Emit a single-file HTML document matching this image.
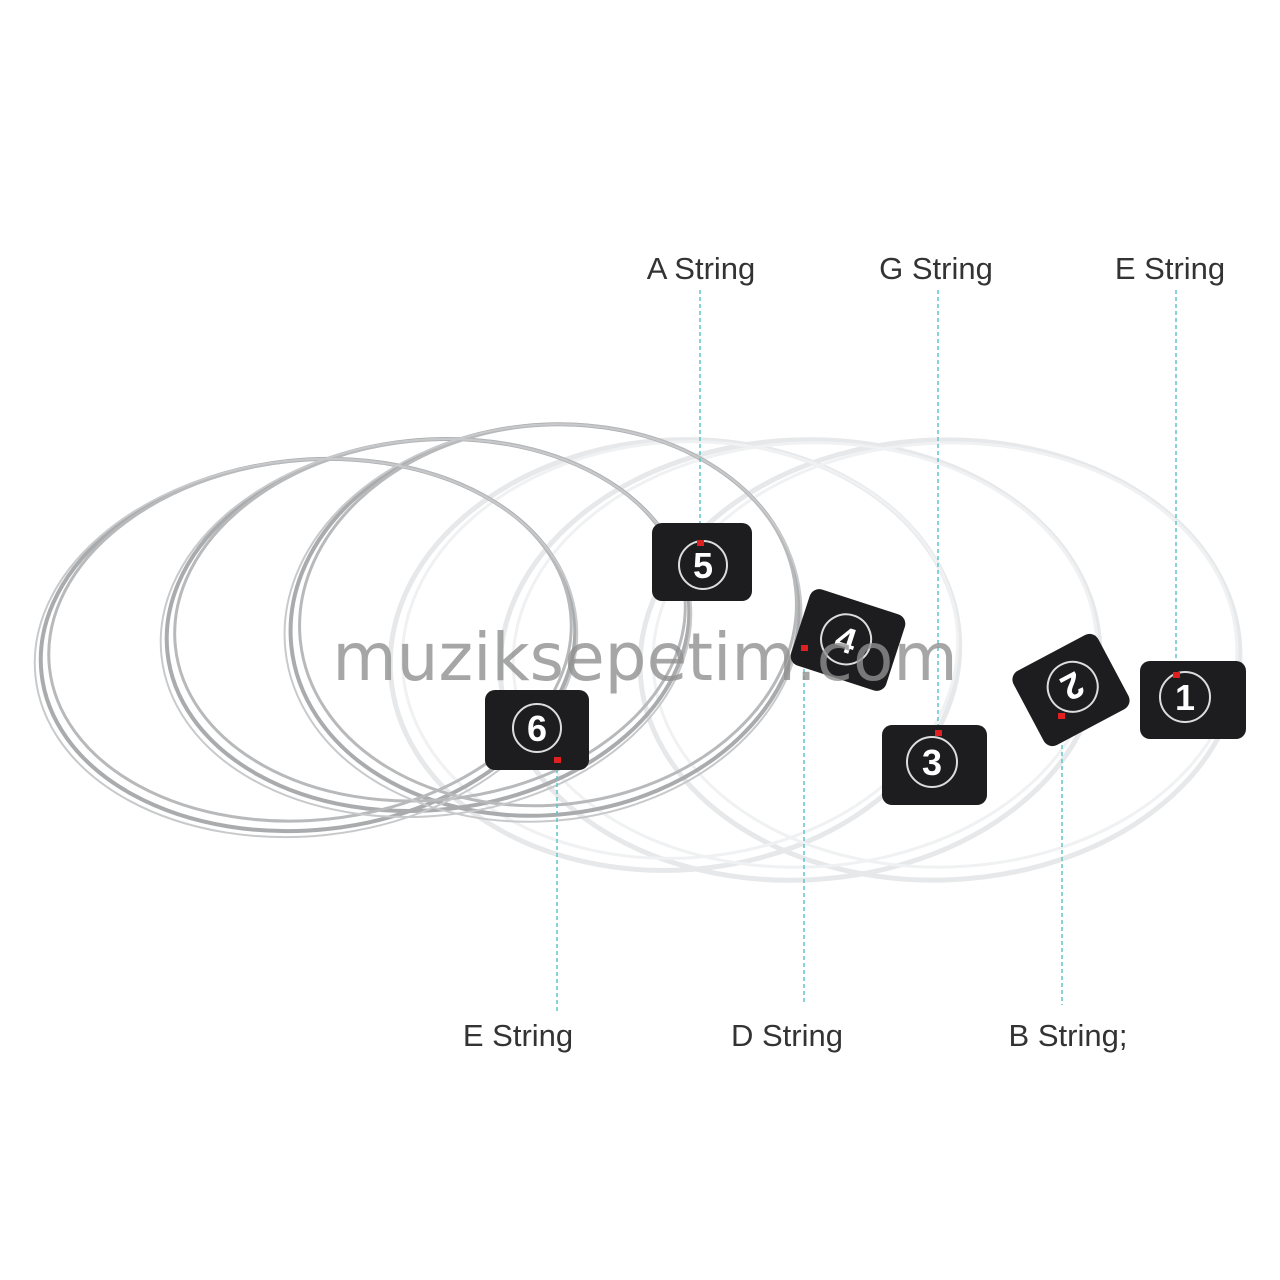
<!DOCTYPE html>
<html><head><meta charset="utf-8"><style>
html,body{margin:0;padding:0;background:#fff;}
svg{display:block}
</style></head><body>
<svg width="1280" height="1280" viewBox="0 0 1280 1280" xmlns="http://www.w3.org/2000/svg">
<rect width="1280" height="1280" fill="#fff"/>
<!-- white nylon rings -->
<g fill="none" stroke="#e6e8ea" stroke-width="5">
<ellipse cx="675" cy="655" rx="285" ry="215" transform="rotate(-4 675 655)"/>
<ellipse cx="800" cy="660" rx="300" ry="220" transform="rotate(-3 800 660)"/>
<ellipse cx="940" cy="660" rx="300" ry="220" transform="rotate(-2 940 660)"/>
</g>
<g fill="none" stroke="#f0f1f2" stroke-width="3">
<ellipse cx="680" cy="650" rx="278" ry="208" transform="rotate(-4 680 650)"/>
<ellipse cx="805" cy="655" rx="292" ry="212" transform="rotate(-3 805 655)"/>
<ellipse cx="945" cy="655" rx="292" ry="212" transform="rotate(-2 945 655)"/>
</g>
<!-- silver rings -->
<g fill="none" stroke="#a9abad" stroke-width="4">
<ellipse cx="308" cy="645" rx="268" ry="185" transform="rotate(-6 308 645)"/>
<ellipse cx="428" cy="625" rx="262" ry="185" transform="rotate(-6 428 625)"/>
<ellipse cx="545" cy="620" rx="255" ry="195" transform="rotate(-6 545 620)"/>
</g>
<g fill="none" stroke="#b8b9bb" stroke-width="3">
<ellipse cx="310" cy="640" rx="262" ry="180" transform="rotate(-6 310 640)"/>
<ellipse cx="430" cy="620" rx="256" ry="180" transform="rotate(-6 430 620)"/>
<ellipse cx="548" cy="615" rx="249" ry="190" transform="rotate(-6 548 615)"/>
</g>
<g fill="none" stroke="#c8c9cb" stroke-width="2">
<ellipse cx="306" cy="648" rx="272" ry="188" transform="rotate(-6 306 648)"/>
<ellipse cx="426" cy="628" rx="266" ry="188" transform="rotate(-6 426 628)"/>
<ellipse cx="543" cy="623" rx="259" ry="198" transform="rotate(-6 543 623)"/>
</g>
<!-- dashed leader lines -->
<g stroke="#5cc5cc" stroke-width="1.5" stroke-dasharray="4 3">
<line x1="700" y1="290" x2="700" y2="542"/>
<line x1="938" y1="290" x2="938" y2="732"/>
<line x1="1176" y1="290" x2="1176" y2="675"/>
<line x1="557" y1="762" x2="557" y2="1012"/>
<line x1="804" y1="648" x2="804" y2="1005"/>
<line x1="1062" y1="717" x2="1062" y2="1005"/>
</g>
<!-- tags -->
<g font-family="Liberation Sans, sans-serif" font-weight="bold" fill="#fff" text-anchor="middle">
<g><rect x="652" y="523" width="100" height="78" rx="10" fill="#1d1d1f"/><circle cx="703" cy="565" r="24" fill="none" stroke="#ddd" stroke-width="2"/><text x="703" y="578" font-size="36">5</text></g>
<g><rect x="485" y="690" width="104" height="80" rx="10" fill="#1d1d1f"/><circle cx="537" cy="728" r="24" fill="none" stroke="#ddd" stroke-width="2"/><text x="537" y="741" font-size="36">6</text></g>
<g transform="rotate(18 848 640)"><rect x="798" y="600" width="100" height="80" rx="10" fill="#1d1d1f"/><circle cx="846" cy="640" r="25" fill="none" stroke="#ddd" stroke-width="2"/><text x="846" y="653" font-size="36">4</text></g>
<g><rect x="882" y="725" width="105" height="80" rx="10" fill="#1d1d1f"/><circle cx="932" cy="762" r="25" fill="none" stroke="#ddd" stroke-width="2"/><text x="932" y="775" font-size="36">3</text></g>
<g transform="rotate(-28 1071 690)"><rect x="1023" y="648" width="96" height="84" rx="10" fill="#1d1d1f"/><circle cx="1074" cy="688" r="25" fill="none" stroke="#ddd" stroke-width="2"/><text x="1074" y="701" font-size="36" transform="rotate(180 1074 688)">2</text></g>
<g><rect x="1140" y="661" width="106" height="78" rx="10" fill="#1d1d1f"/><circle cx="1185" cy="697" r="25" fill="none" stroke="#ddd" stroke-width="2"/><text x="1185" y="710" font-size="36">1</text></g>
</g>
<!-- red dots -->
<g fill="#e02020">
<rect x="697" y="540" width="7" height="6"/>
<rect x="554" y="757" width="7" height="6"/>
<rect x="801" y="645" width="7" height="6"/>
<rect x="935" y="730" width="7" height="6"/>
<rect x="1058" y="713" width="7" height="6"/>
<rect x="1173" y="672" width="7" height="6"/>
</g>
<!-- watermark -->
<text x="645" y="680" text-anchor="middle" font-family="DejaVu Sans, Liberation Sans, sans-serif" font-size="66" fill="#909090" fill-opacity="0.8">muziksepetim.com</text>
<!-- labels -->
<g font-family="Liberation Sans, sans-serif" font-size="31" fill="#333" text-anchor="middle">
<text x="701" y="279">A String</text>
<text x="936" y="279">G String</text>
<text x="1170" y="279">E String</text>
<text x="518" y="1046">E String</text>
<text x="787" y="1046">D String</text>
<text x="1068" y="1046">B String;</text>
</g>
</svg>
</body></html>
